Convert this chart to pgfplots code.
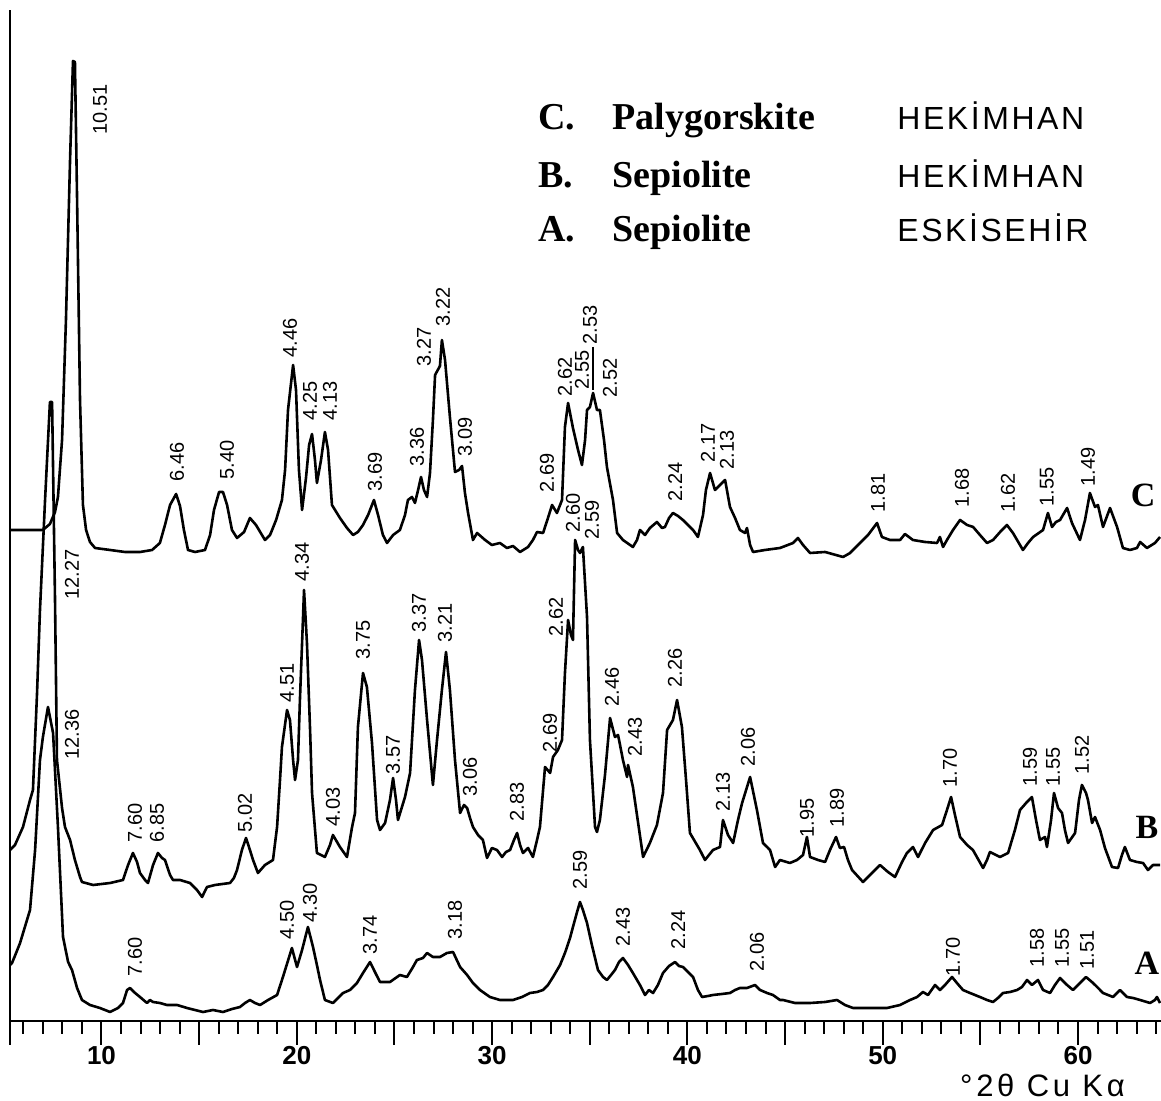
\documentclass[border=0pt]{standalone}
\usepackage{fontspec}
\setmainfont{Liberation Sans}
\newfontfamily\serifbf{Liberation Serif}
\newfontfamily\spaced[LetterSpace=8]{Liberation Sans}
\newfontfamily\xlab[LetterSpace=12]{Liberation Sans}
\usepackage{pgfplots}
\pgfplotsset{compat=1.18}
\tikzset{lbl/.style={rotate=90, anchor=west, inner sep=0pt, font=\fontsize{10}{10}\selectfont}}
\begin{document}
\begin{tikzpicture}
\useasboundingbox (-5pt,-40pt) rectangle (575.5pt,510.5pt);
\begin{axis}[
  scale only axis, width=575.5pt, height=505.5pt,
  xmin=5.315, xmax=64.25, ymin=0, ymax=1011,
  clip=false,
  axis x line=bottom, axis y line=left,
  axis line style={-},
  x axis line style={line width=1.4pt},
  y axis line style={line width=1pt},
  ytick=\empty,
  xtick={10,20,30,40,50,60},
  xticklabels={10,20,30,40,50,60},
  extra x ticks={5.32,15,25,35,45,55},
  extra x tick labels={},
  minor xtick={6,7,...,64},
  tick align=outside,
  major tick length=12pt, minor tick length=6.5pt,
  every tick/.style={black, line width=1pt},
  xticklabel style={font=\bfseries\fontsize{13}{13}\selectfont, yshift=3pt},
  trace/.style={black, line width=1.3pt, line join=round},
]
% C: Palygorskite Hekimhan
\addplot[trace] coordinates {
(5.32,491)(7.00,491)(7.36,497)(7.62,509)(7.77,524)(7.98,581)(8.18,701)(8.39,861)(8.54,960)(8.64,959)(8.75,821)(8.90,621)(9.05,516)(9.21,491)(9.41,479)(9.67,473)(10.44,471)(11.20,469)(11.97,469)(12.59,471)(12.99,478)(13.25,496)(13.51,516)(13.82,527)(14.02,515)(14.22,491)(14.43,471)(14.79,469)(15.30,471)(15.56,486)(15.76,511)(16.02,529)(16.22,529)(16.43,516)(16.68,491)(16.94,483)(17.30,489)(17.60,503)(17.91,496)(18.37,481)(18.63,486)(18.94,501)(19.24,521)(19.40,551)(19.55,611)(19.81,656)(19.96,631)(20.11,551)(20.27,511)(20.47,543)(20.63,576)(20.78,587)(20.93,561)(21.03,538)(21.24,561)(21.44,589)(21.60,571)(21.80,516)(22.21,503)(22.57,493)(22.88,486)(23.13,489)(23.39,496)(23.65,506)(23.95,521)(24.16,506)(24.41,486)(24.62,478)(24.93,486)(25.28,491)(25.54,506)(25.69,521)(25.90,524)(26.05,518)(26.21,531)(26.36,544)(26.51,531)(26.67,524)(26.82,548)(26.97,601)(27.08,646)(27.33,655)(27.43,681)(27.59,661)(27.84,604)(28.10,549)(28.31,551)(28.46,555)(28.61,528)(28.77,508)(29.02,481)(29.23,488)(29.64,481)(29.99,476)(30.40,478)(30.76,473)(31.07,475)(31.43,469)(31.84,474)(32.09,481)(32.30,489)(32.61,488)(32.86,503)(33.07,516)(33.32,508)(33.58,521)(33.73,594)(33.89,618)(34.14,593)(34.40,571)(34.60,556)(34.76,581)(34.86,611)(35.01,614)(35.17,628)(35.37,611)(35.52,611)(35.73,581)(35.88,554)(36.19,521)(36.40,488)(36.70,481)(37.21,474)(37.42,481)(37.57,491)(37.83,486)(38.08,493)(38.44,499)(38.70,493)(38.85,494)(39.06,503)(39.26,508)(39.52,505)(39.77,501)(40.03,496)(40.29,491)(40.54,484)(40.80,506)(40.95,531)(41.16,548)(41.41,531)(41.67,536)(41.93,541)(42.18,514)(42.44,503)(42.69,491)(42.95,488)(43.05,493)(43.21,476)(43.36,469)(43.97,471)(44.74,473)(45.41,478)(45.66,483)(45.92,476)(46.28,468)(47.05,469)(47.97,464)(48.33,468)(48.84,478)(49.25,486)(49.71,498)(49.96,484)(50.37,481)(50.89,481)(51.14,487)(51.55,481)(52.17,479)(52.78,478)(52.93,484)(53.09,474)(53.29,481)(53.60,491)(53.96,501)(54.32,496)(54.63,494)(54.98,486)(55.34,478)(55.65,481)(56.01,489)(56.36,496)(56.67,488)(57.18,471)(57.44,478)(57.70,484)(58.21,491)(58.46,508)(58.67,494)(58.87,499)(59.08,501)(59.44,513)(59.69,498)(60.10,481)(60.36,501)(60.61,528)(60.87,514)(61.02,516)(61.28,494)(61.64,513)(62.00,494)(62.30,473)(62.66,471)(63.02,473)(63.18,479)(63.53,473)(63.94,478)(64.20,484)
};
% B: Sepiolite Hekimhan
\addplot[trace] coordinates {
(5.32,171)(5.57,176)(5.98,194)(6.34,221)(6.49,231)(6.70,328)(6.85,411)(7.11,521)(7.36,619)(7.47,619)(7.62,421)(7.72,261)(7.98,213)(8.13,194)(8.39,181)(8.64,161)(8.90,144)(9.00,139)(9.57,136)(10.44,138)(11.10,141)(11.36,156)(11.61,168)(11.82,159)(11.97,148)(12.23,141)(12.38,138)(12.64,156)(12.89,168)(13.10,163)(13.25,161)(13.51,146)(13.66,141)(14.02,141)(14.53,138)(14.89,131)(15.15,124)(15.40,134)(15.81,136)(16.58,138)(16.78,143)(16.94,151)(17.19,171)(17.40,183)(17.60,171)(17.76,161)(18.01,148)(18.37,156)(18.78,161)(18.99,194)(19.14,241)(19.24,274)(19.50,311)(19.65,301)(19.81,261)(19.91,241)(20.06,261)(20.16,321)(20.27,378)(20.37,431)(20.52,378)(20.68,291)(20.78,228)(21.03,168)(21.44,164)(21.70,176)(21.85,186)(22.06,179)(22.21,174)(22.57,164)(22.83,194)(22.98,208)(23.13,294)(23.39,348)(23.59,334)(23.85,278)(24.11,201)(24.26,191)(24.52,198)(24.77,221)(24.93,243)(25.08,221)(25.18,201)(25.54,224)(25.80,248)(26.05,331)(26.26,381)(26.41,361)(26.67,301)(26.97,236)(27.18,281)(27.43,331)(27.64,369)(27.84,331)(28.10,261)(28.36,208)(28.56,216)(28.72,213)(28.87,203)(29.02,194)(29.28,186)(29.53,181)(29.74,163)(29.99,173)(30.25,171)(30.51,164)(30.71,169)(30.92,171)(31.12,181)(31.28,188)(31.43,176)(31.58,168)(31.84,173)(32.09,164)(32.30,181)(32.45,194)(32.71,254)(32.97,248)(33.12,264)(33.37,271)(33.58,281)(33.73,348)(33.89,401)(34.04,386)(34.14,381)(34.25,481)(34.40,471)(34.50,468)(34.65,474)(34.86,404)(35.01,281)(35.27,194)(35.37,189)(35.52,201)(35.78,246)(36.04,303)(36.29,284)(36.45,286)(36.70,261)(36.91,244)(36.96,256)(37.21,234)(37.47,199)(37.73,164)(38.08,178)(38.44,196)(38.75,228)(38.96,291)(39.26,301)(39.47,321)(39.72,294)(39.93,241)(40.13,188)(40.64,171)(40.90,161)(41.31,171)(41.67,174)(41.82,201)(42.08,186)(42.34,178)(42.59,201)(42.80,218)(43.21,244)(43.56,211)(43.87,178)(44.08,174)(44.23,171)(44.49,154)(44.74,161)(45.25,158)(45.61,161)(45.92,166)(46.12,184)(46.28,164)(46.69,161)(47.05,159)(47.30,171)(47.61,184)(47.81,173)(48.02,174)(48.22,161)(48.43,151)(48.99,139)(49.35,146)(49.86,156)(50.27,149)(50.63,144)(50.99,159)(51.24,168)(51.55,174)(51.81,164)(52.17,178)(52.58,191)(53.04,196)(53.29,211)(53.50,224)(53.70,206)(53.96,184)(54.32,176)(54.62,171)(55.14,153)(55.34,161)(55.49,169)(56.01,164)(56.42,168)(56.77,191)(57.03,211)(57.34,218)(57.64,224)(57.85,201)(58.05,181)(58.31,184)(58.41,174)(58.62,201)(58.77,228)(58.98,213)(59.18,208)(59.33,191)(59.49,178)(59.85,188)(60.05,221)(60.20,236)(60.41,228)(60.51,221)(60.72,198)(60.87,204)(61.13,191)(61.38,173)(61.74,154)(62.05,153)(62.25,166)(62.40,174)(62.66,161)(63.02,159)(63.33,158)(63.58,151)(63.84,156)(64.20,156)
};
% A: Sepiolite Eskisehir
\addplot[trace] coordinates {
(5.32,56)(5.42,58)(5.83,78)(6.34,111)(6.60,171)(6.85,261)(7.00,284)(7.26,314)(7.52,288)(7.77,194)(8.03,84)(8.29,59)(8.49,51)(8.75,33)(9.00,21)(9.41,16)(9.92,13)(10.44,9)(10.85,13)(11.10,18)(11.31,31)(11.46,33)(11.72,28)(11.97,24)(12.33,18)(12.48,21)(12.64,19)(12.99,18)(13.35,16)(13.87,16)(14.38,13)(14.79,11)(15.20,9)(15.71,11)(16.22,9)(16.68,12)(17.09,14)(17.35,18)(17.60,21)(17.86,18)(18.12,16)(18.53,21)(18.99,26)(19.29,44)(19.75,73)(20.01,54)(20.27,71)(20.57,94)(20.83,74)(21.03,56)(21.19,41)(21.44,21)(21.85,18)(22.11,23)(22.37,28)(22.72,31)(23.08,38)(23.39,48)(23.75,59)(24.00,49)(24.26,39)(24.77,39)(25.28,46)(25.64,44)(25.95,54)(26.15,61)(26.46,63)(26.67,68)(26.97,64)(27.33,64)(27.69,68)(28.00,69)(28.36,54)(28.72,46)(29.02,38)(29.38,31)(29.89,24)(30.40,21)(31.07,21)(31.53,24)(31.94,28)(32.30,29)(32.61,31)(32.86,36)(33.12,44)(33.48,56)(33.73,68)(33.99,83)(34.14,94)(34.35,109)(34.50,119)(34.65,111)(34.86,98)(35.11,76)(35.42,51)(35.68,44)(35.88,41)(36.09,46)(36.29,51)(36.50,59)(36.70,63)(36.96,56)(37.21,48)(37.57,36)(37.83,26)(38.03,31)(38.24,28)(38.49,36)(38.75,48)(39.06,55)(39.37,59)(39.57,55)(39.77,54)(40.03,49)(40.29,44)(40.54,31)(40.75,24)(41.06,25)(41.31,26)(41.77,27)(42.18,28)(42.44,31)(42.69,33)(43.05,33)(43.46,36)(43.72,31)(44.08,28)(44.38,26)(44.74,21)(44.90,21)(45.51,18)(46.28,18)(47.05,19)(47.66,21)(48.07,16)(48.48,13)(49.35,13)(50.22,13)(50.89,16)(51.40,21)(51.76,24)(52.06,29)(52.32,26)(52.68,36)(52.93,31)(53.19,36)(53.55,44)(53.80,38)(54.11,31)(54.47,28)(54.98,24)(55.34,21)(55.65,19)(55.90,23)(56.16,28)(56.52,29)(56.88,31)(57.13,34)(57.39,41)(57.64,36)(57.95,41)(58.21,31)(58.57,28)(58.82,36)(59.08,43)(59.44,36)(59.74,31)(60.10,38)(60.41,44)(60.77,38)(61.03,33)(61.28,28)(61.54,26)(61.79,24)(62.15,31)(62.51,24)(62.82,23)(63.18,21)(63.69,18)(63.94,21)(64.04,24)(64.20,18)
};
% ---- peak labels, C ----
\node[lbl] at (axis cs:9.92,886) {10.51};
\node[lbl] at (axis cs:13.87,539) {6.46};
\node[lbl] at (axis cs:16.43,541) {5.40};
\node[lbl] at (axis cs:19.65,663) {4.46};
\node[lbl] at (axis cs:20.68,600) {4.25};
\node[lbl] at (axis cs:21.70,600) {4.13};
\node[lbl] at (axis cs:24.00,529) {3.69};
\node[lbl] at (axis cs:26.15,554) {3.36};
\node[lbl] at (axis cs:26.51,654) {3.27};
\node[lbl] at (axis cs:27.49,694) {3.22};
\node[lbl] at (axis cs:28.61,564) {3.09};
\node[lbl] at (axis cs:32.81,528) {2.69};
\node[lbl] at (axis cs:33.73,624) {2.62};
\node[lbl] at (axis cs:34.60,631) {2.55};
\node[lbl] at (axis cs:35.01,676) {2.53};
\draw[line width=0.6pt] (axis cs:35.17,674) -- (axis cs:35.17,631);
\node[lbl] at (axis cs:36.04,623) {2.52};
\node[lbl] at (axis cs:39.37,519) {2.24};
\node[lbl] at (axis cs:41.05,558) {2.17};
\node[lbl] at (axis cs:42.03,551) {2.13};
\node[lbl] at (axis cs:49.76,508) {1.81};
\node[lbl] at (axis cs:54.06,513) {1.68};
\node[lbl] at (axis cs:56.42,508) {1.62};
\node[lbl] at (axis cs:58.41,514) {1.55};
\node[lbl] at (axis cs:60.51,534) {1.49};
% ---- peak labels, B ----
\node[lbl] at (axis cs:8.49,421) {12.27};
\node[lbl] at (axis cs:11.72,178) {7.60};
\node[lbl] at (axis cs:12.84,178) {6.85};
\node[lbl] at (axis cs:17.35,188) {5.02};
\node[lbl] at (axis cs:19.50,318) {4.51};
\node[lbl] at (axis cs:20.27,439) {4.34};
\node[lbl] at (axis cs:21.85,194) {4.03};
\node[lbl] at (axis cs:23.39,361) {3.75};
\node[lbl] at (axis cs:24.93,246) {3.57};
\node[lbl] at (axis cs:26.26,388) {3.37};
\node[lbl] at (axis cs:27.59,378) {3.21};
\node[lbl] at (axis cs:28.87,224) {3.06};
\node[lbl] at (axis cs:31.28,199) {2.83};
\node[lbl] at (axis cs:32.97,268) {2.69};
\node[lbl] at (axis cs:33.27,384) {2.62};
\node[lbl] at (axis cs:34.14,488) {2.60};
\node[lbl] at (axis cs:35.11,481) {2.59};
\node[lbl] at (axis cs:36.14,314) {2.46};
\node[lbl] at (axis cs:37.32,264) {2.43};
\node[lbl] at (axis cs:39.37,333) {2.26};
\node[lbl] at (axis cs:41.82,209) {2.13};
\node[lbl] at (axis cs:43.10,254) {2.06};
\node[lbl] at (axis cs:46.12,183) {1.95};
\node[lbl] at (axis cs:47.66,193) {1.89};
\node[lbl] at (axis cs:53.45,233) {1.70};
\node[lbl] at (axis cs:57.54,234) {1.59};
\node[lbl] at (axis cs:58.72,234) {1.55};
\node[lbl] at (axis cs:60.20,246) {1.52};
% ---- peak labels, A ----
\node[lbl] at (axis cs:8.49,261) {12.36};
\node[lbl] at (axis cs:11.72,44) {7.60};
\node[lbl] at (axis cs:19.50,81) {4.50};
\node[lbl] at (axis cs:20.68,98) {4.30};
\node[lbl] at (axis cs:23.75,66) {3.74};
\node[lbl] at (axis cs:28.10,81) {3.18};
\node[lbl] at (axis cs:34.50,131) {2.59};
\node[lbl] at (axis cs:36.70,74) {2.43};
\node[lbl] at (axis cs:39.52,71) {2.24};
\node[lbl] at (axis cs:43.56,49) {2.06};
\node[lbl] at (axis cs:53.60,44) {1.70};
\node[lbl] at (axis cs:57.90,53) {1.58};
\node[lbl] at (axis cs:59.18,53) {1.55};
\node[lbl] at (axis cs:60.46,51) {1.51};
% ---- trace letters ----
\node[font=\serifbf\bfseries\fontsize{17}{17}\selectfont] at (axis cs:63.33,526) {C};
\node[font=\serifbf\bfseries\fontsize{17}{17}\selectfont] at (axis cs:63.53,194) {B};
\node[font=\serifbf\bfseries\fontsize{17}{17}\selectfont] at (axis cs:63.53,58) {A};
% ---- legend text ----
\begin{scope}[every node/.style={anchor=base west, inner sep=0pt}]
\node[font=\serifbf\bfseries\fontsize{19}{19}\selectfont] at (axis cs:32.35,891) {C.};
\node[font=\serifbf\bfseries\fontsize{19}{19}\selectfont] at (axis cs:36.14,891) {Palygorskite};
\node[font=\spaced\fontsize{16}{16}\selectfont] at (axis cs:50.73,891) {HEKİMHAN};
\node[font=\serifbf\bfseries\fontsize{19}{19}\selectfont] at (axis cs:32.35,833) {B.};
\node[font=\serifbf\bfseries\fontsize{19}{19}\selectfont] at (axis cs:36.14,833) {Sepiolite};
\node[font=\spaced\fontsize{16}{16}\selectfont] at (axis cs:50.73,833) {HEKİMHAN};
\node[font=\serifbf\bfseries\fontsize{19}{19}\selectfont] at (axis cs:32.35,779) {A.};
\node[font=\serifbf\bfseries\fontsize{19}{19}\selectfont] at (axis cs:36.14,779) {Sepiolite};
\node[font=\spaced\fontsize{16}{16}\selectfont] at (axis cs:50.73,779) {ESKİSEHİR};
\end{scope}
% ---- x label ----
\node[anchor=base, inner sep=0pt, font=\xlab\fontsize{15.5}{16}\selectfont] at (axis cs:58.18,-76) {°2θ Cu Kα};
\end{axis}
\end{tikzpicture}
\end{document}
